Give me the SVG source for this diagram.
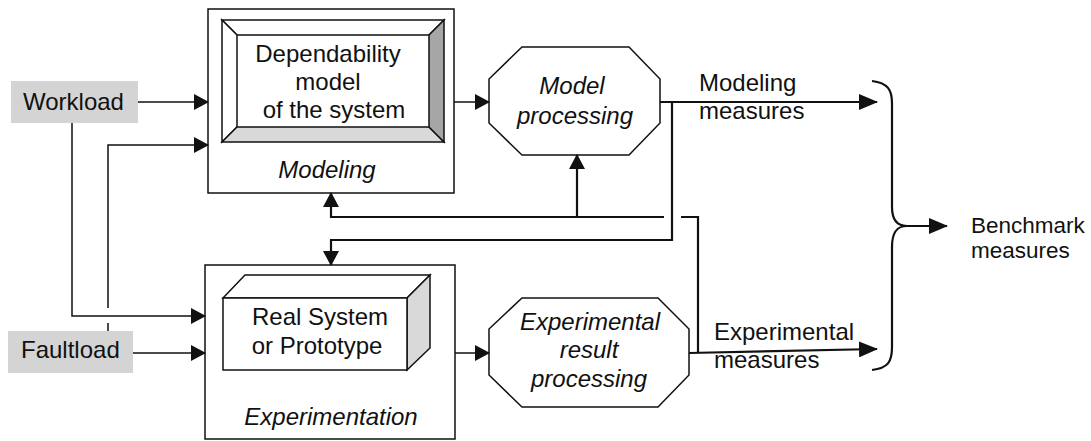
<svg xmlns="http://www.w3.org/2000/svg" width="1091" height="441" viewBox="0 0 1091 441">
<style>
.t{font-family:"Liberation Sans",Arial,sans-serif;font-size:24px;fill:#111}
.s{font-size:22.5px}
.i{font-style:italic}
.m{text-anchor:middle}
.box{fill:#fff;stroke:#111;stroke-width:1.5}
.gray{fill:#d4d4d4}
.c{fill:none;stroke:#111;stroke-width:1.5}
.k{fill:none;stroke:#111;stroke-width:2.2}
</style>
<defs>
<marker id="a" markerUnits="userSpaceOnUse" markerWidth="15" markerHeight="16" refX="14" refY="8" orient="auto">
<path d="M0,0 L15,8 L0,16 z" fill="#111"/>
</marker>
<marker id="b" markerUnits="userSpaceOnUse" markerWidth="19" markerHeight="16" refX="18" refY="8" orient="auto">
<path d="M0,0 L19,8 L0,16 z" fill="#111"/>
</marker>
</defs>
<rect width="1091" height="441" fill="#fff"/>

<g id="workload">
<rect class="gray" x="11" y="81" width="127" height="42"/>
<text class="t" x="23" y="110">Workload</text>
</g>
<g id="faultload">
<rect class="gray" x="8" y="331" width="125" height="42"/>
<text class="t" x="21" y="358">Faultload</text>
</g>

<g id="modeling">
<rect class="box" x="208" y="9" width="246" height="184"/>
<polygon class="box" points="222,20 444,20 429,35 237,35"/>
<polygon class="box" points="222,20 237,35 237,127 222,142"/>
<polygon class="box" style="fill:#d9d9d9" points="222,142 237,127 429,127 444,142"/>
<polygon class="box" style="fill:#a6a6a6" points="444,20 429,35 429,127 444,142"/>
<text class="t m" x="328" y="62">Dependability</text>
<text class="t m" x="328" y="90">model</text>
<text class="t m" x="334" y="118">of the system</text>
<text class="t i m" x="327" y="178">Modeling</text>
</g>

<g id="experimentation">
<rect class="box" x="205" y="265" width="250" height="174"/>
<polygon class="box" points="223,298 245,275 430,275 407,298"/>
<polygon class="box" style="fill:#d9d9d9" points="407,298 430,275 430,348 407,370"/>
<rect class="box" x="223" y="298" width="184" height="72"/>
<text class="t m" x="320" y="325">Real System</text>
<text class="t m" x="317" y="354">or Prototype</text>
<text class="t i m" x="331" y="425">Experimentation</text>
</g>

<g id="model-processing">
<polygon class="box" points="522,47 629,47 660,79 660,123 629,155 522,155 489,123 489,79"/>
<text class="t i m" x="572" y="94">Model</text>
<text class="t i m" x="575" y="124">processing</text>
</g>

<g id="exp-processing">
<polygon class="box" points="522,298 658,298 689,329 689,375 658,407 522,407 489,375 489,329"/>
<text class="t i m" x="590" y="330">Experimental</text>
<text class="t i m" x="589" y="358">result</text>
<text class="t i m" x="589" y="387">processing</text>
</g>

<g id="labels">
<text class="t" x="699" y="91">Modeling</text>
<text class="t" x="699" y="119">measures</text>
<text class="t" x="714" y="340">Experimental</text>
<text class="t" x="714" y="368">measures</text>
<text class="t s" x="971" y="233">Benchmark</text>
<text class="t s" x="971" y="258">measures</text>
</g>

<g id="connectors">
<path class="c" d="M138,102 H208" marker-end="url(#a)"/>
<path class="c" d="M108,331 V323 M108,308 V145 H208" marker-end="url(#a)"/>
<path class="c" d="M72,123 V316 H205" marker-end="url(#a)"/>
<path class="c" d="M133,353 H205" marker-end="url(#a)"/>
<path class="c" d="M454,102 H489" marker-end="url(#a)"/>
<path class="c" d="M455,353 H489" marker-end="url(#a)"/>
<path class="k" d="M660,102 H877" marker-end="url(#b)"/>
<path class="k" d="M689,353 L877,349" marker-end="url(#b)"/>
<path class="k" d="M672,102 V240 H331 V265" marker-end="url(#a)"/>
<path class="k" d="M698,352 V217 H681 M664,217 H331 V193" marker-end="url(#a)"/>
<path class="k" d="M577,217 V155" marker-end="url(#a)"/>
<path class="k" d="M872,81 C888,83 892,90 892,103 V207 C892,220 897,226 907,226 C897,226 892,232 892,247 V347 C892,362 888,368 872,370"/>
<path class="k" d="M907,226 H947" marker-end="url(#b)"/>
</g>
</svg>
